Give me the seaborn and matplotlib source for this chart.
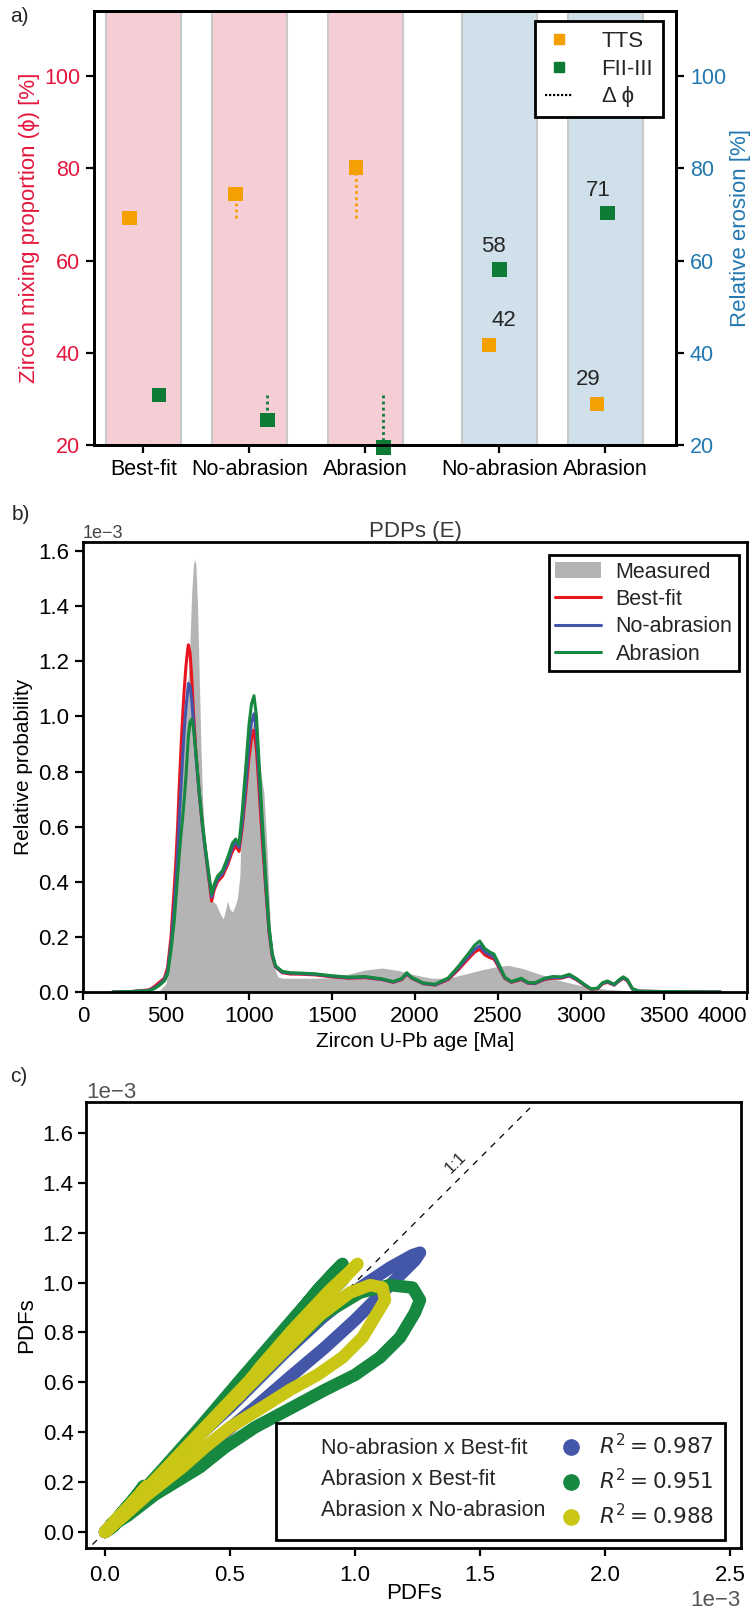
import numpy as np
import pandas as pd
import matplotlib
matplotlib.use("Agg")
import matplotlib.pyplot as plt
import seaborn as sns
from matplotlib.lines import Line2D
from matplotlib.patches import Patch

# ---------------- data ----------------
# panel a
group_labels = ["Best-fit", "No-abrasion", "Abrasion", "No-abrasion", "Abrasion"]
tts_mixing = [69.2, 74.4, 80.2]      # Best-fit, No-abrasion, Abrasion  (left axis)
fii_mixing = [30.8, 25.4, 19.5]
tts_erosion = [41.7, 28.9]           # No-abrasion, Abrasion (right axis)
fii_erosion = [58.1, 70.3]
tts_erosion_labels = ["42", "29"]
fii_erosion_labels = ["58", "71"]

# panel b (values in units of 1e-3)
model_age = [180, 300, 400, 430, 460, 490, 510, 530, 550, 560, 570, 580, 590, 600, 610, 620, 630, 635,
             645, 655, 665, 680, 700, 720, 740, 760, 775, 790, 810, 840, 870, 900, 920, 940, 960, 980,
             1000, 1015, 1030, 1045, 1060, 1080, 1100, 1120, 1140, 1160, 1200, 1250, 1300, 1400,
             1500, 1600, 1700, 1800, 1870, 1920, 1950, 1980, 2050, 2120, 2200, 2260, 2320, 2360,
             2390, 2420, 2450, 2475, 2500, 2540, 2580, 2610, 2640, 2680, 2720, 2780, 2830, 2880,
             2930, 2970, 3020, 3060, 3100, 3130, 3160, 3200, 3230, 3255, 3280, 3310, 3350, 3450,
             3600, 3840]
best_fit = [0.0, 0.002, 0.008, 0.02, 0.035, 0.05, 0.09, 0.2, 0.38, 0.48, 0.6, 0.75, 0.88, 1.0, 1.1, 1.18, 1.24, 1.26,
            1.23, 1.14, 1.02, 0.87, 0.72, 0.6, 0.5, 0.4, 0.33, 0.37, 0.40, 0.42, 0.46, 0.51, 0.53, 0.51, 0.6, 0.72,
            0.85, 0.92, 0.95, 0.88, 0.74, 0.55, 0.38, 0.22, 0.13, 0.09, 0.07, 0.065, 0.065, 0.062,
            0.055, 0.05, 0.052, 0.045, 0.035, 0.045, 0.065, 0.05, 0.03, 0.025, 0.045, 0.08, 0.12, 0.145,
            0.155, 0.135, 0.125, 0.12, 0.095, 0.05, 0.035, 0.04, 0.045, 0.032, 0.03, 0.045, 0.05, 0.05,
            0.058, 0.045, 0.025, 0.01, 0.012, 0.03, 0.035, 0.025, 0.04, 0.05, 0.04, 0.01, 0.003, 0.002,
            0.001, 0.0]
no_abrasion = [0.0, 0.002, 0.006, 0.015, 0.028, 0.045, 0.075, 0.17, 0.31, 0.40, 0.5, 0.63, 0.74, 0.85, 0.95, 1.03, 1.09, 1.12,
               1.11, 1.06, 0.98, 0.86, 0.72, 0.6, 0.5, 0.41, 0.345, 0.38, 0.41, 0.43, 0.47, 0.525, 0.545, 0.525, 0.62, 0.75,
               0.9, 0.98, 1.01, 0.94, 0.79, 0.59, 0.4, 0.23, 0.135, 0.092, 0.072, 0.068, 0.067, 0.064,
               0.057, 0.052, 0.054, 0.046, 0.036, 0.047, 0.067, 0.051, 0.031, 0.026, 0.048, 0.086, 0.128, 0.155,
               0.168, 0.145, 0.135, 0.128, 0.1, 0.052, 0.036, 0.042, 0.047, 0.033, 0.031, 0.047, 0.053, 0.052,
               0.06, 0.047, 0.026, 0.011, 0.013, 0.032, 0.037, 0.026, 0.042, 0.052, 0.042, 0.011, 0.003, 0.002,
               0.001, 0.0]
abrasion = [0.0, 0.002, 0.005, 0.012, 0.024, 0.04, 0.065, 0.15, 0.26, 0.34, 0.42, 0.5, 0.57, 0.63, 0.7, 0.78, 0.88, 0.93,
            0.98, 0.99, 0.96, 0.87, 0.73, 0.61, 0.51, 0.42, 0.355, 0.39, 0.42, 0.44, 0.485, 0.54, 0.555, 0.535, 0.66, 0.81,
            0.97, 1.045, 1.075, 1.0, 0.84, 0.62, 0.42, 0.24, 0.14, 0.095, 0.075, 0.07, 0.069, 0.066,
            0.059, 0.054, 0.056, 0.048, 0.038, 0.049, 0.07, 0.053, 0.033, 0.028, 0.051, 0.092, 0.138, 0.17,
            0.185, 0.158, 0.145, 0.138, 0.108, 0.055, 0.038, 0.044, 0.05, 0.035, 0.033, 0.05, 0.056, 0.055,
            0.064, 0.05, 0.028, 0.012, 0.014, 0.034, 0.04, 0.028, 0.045, 0.055, 0.045, 0.012, 0.003, 0.002,
            0.001, 0.0]
measured_age = [400, 460, 500, 520, 540, 560, 580, 600, 620, 640, 655, 665, 672, 680, 690, 700, 710, 720,
                735, 750, 765, 780, 800, 815, 830, 845, 860, 870, 885, 900, 915, 930, 945, 960, 975, 990,
                1010, 1030, 1050, 1070, 1090, 1110, 1130, 1150, 1175, 1200, 1300, 1400, 1500, 1600, 1700,
                1800, 1900, 2000, 2100, 2200, 2300, 2400, 2500, 2560, 2650, 2750, 2850, 2950, 3050, 3150,
                3250, 3350, 3450, 3550]
measured = [0.0, 0.005, 0.03, 0.12, 0.3, 0.5, 0.7, 0.85, 1.0, 1.2, 1.45, 1.55, 1.57, 1.55, 1.4, 1.15, 0.9, 0.7,
            0.55, 0.45, 0.36, 0.33, 0.32, 0.3, 0.28, 0.265, 0.3, 0.33, 0.3, 0.29, 0.31, 0.34, 0.42, 0.75, 0.85, 0.9,
            0.95, 0.98, 0.9, 0.8, 0.72, 0.5, 0.22, 0.09, 0.055, 0.05, 0.05, 0.05, 0.052, 0.065, 0.08,
            0.087, 0.078, 0.062, 0.05, 0.05, 0.065, 0.08, 0.093, 0.097, 0.085, 0.065, 0.045, 0.03, 0.018, 0.01,
            0.006, 0.003, 0.001, 0.0]

# panel c
r2_labels = ["$R^2 = 0.987$", "$R^2 = 0.951$", "$R^2 = 0.988$"]
pair_names = ["No-abrasion x Best-fit", "Abrasion x Best-fit", "Abrasion x No-abrasion"]

# ---------------- styling / layout ----------------
sns.set_theme(style="ticks")
plt.rcParams["font.family"] = ["Liberation Sans", "DejaVu Sans"]
plt.rcParams["mathtext.fontset"] = "dejavusans"
plt.rcParams["axes.linewidth"] = 1.8
plt.rcParams["axes.edgecolor"] = "black"
plt.rcParams["xtick.color"] = "black"
plt.rcParams["ytick.color"] = "black"
plt.rcParams["axes.labelcolor"] = "black"

ORANGE = "#F4A000"
DGREEN = "#0D7A36"
PINK = "#F5CDD5"
LBLUE = "#CFE0EB"
CRIMSON = "#E3173E"
RBLUE = "#2278B0"
RED = "#E8141E"
BLUE = "#4356A8"
GREEN = "#16883F"
YELLOW = "#C9C615"
GREY = "#B4B4B4"
FS = 15
TFS = 16
SCALE = 1e-3

W, H = 756, 1609
fig = plt.figure(figsize=(W / 100, H / 100), dpi=100)


def axes_px(left, right, top, bottom):
    return fig.add_axes([left / W, 1 - bottom / H, (right - left) / W, (bottom - top) / H])


# ================= panel a =================
axa = axes_px(94, 676, 11, 445)
band_pos = [0.47, 1.48, 2.585, 3.86, 4.87]
band_half = 0.357
tts_off = [-0.13, -0.13, -0.09]
fii_off = [0.15, 0.17, 0.17]
tts_off_r = [-0.10, -0.08]
fii_off_r = [0.0, 0.02]

axa.set_xlim(0, 5.543)
axa.set_ylim(20, 114.1)
for i, p in enumerate(band_pos):
    axa.axvspan(p - band_half, p + band_half, facecolor=PINK if i < 3 else LBLUE,
                edgecolor="#C8C8C8", lw=1.5, zorder=0)

tts_x = [band_pos[i] + tts_off[i] for i in range(3)]
fii_x = [band_pos[i] + fii_off[i] for i in range(3)]
axa.vlines(tts_x[1:], [tts_mixing[0]] * 2, tts_mixing[1:], colors=ORANGE, linestyles=(0, (1, 1.2)), lw=2, zorder=2)
axa.vlines(fii_x[1:], [fii_mixing[0]] * 2, fii_mixing[1:], colors=DGREEN, linestyles=(0, (1, 1.2)), lw=2, zorder=2)
sns.scatterplot(x=tts_x, y=tts_mixing, marker="s", s=110, color=ORANGE, edgecolor="none", ax=axa, zorder=3, clip_on=False)
sns.scatterplot(x=fii_x, y=fii_mixing, marker="s", s=110, color=DGREEN, edgecolor="none", ax=axa, zorder=3, clip_on=False)

axa.set_xticks(band_pos)
axa.set_xticklabels(group_labels)
axa.set_yticks([20, 40, 60, 80, 100])
axa.tick_params(axis="both", direction="out", length=6, width=1.6, labelsize=15.5, pad=4)
axa.tick_params(axis="y", labelcolor=CRIMSON)
axa.set_ylabel("Zircon mixing proportion (ϕ) [%]", color=CRIMSON, fontsize=FS + 1, labelpad=3)

axr = axa.twinx()
axr.set_ylim(20, 114.1)
axr.set_yticks([20, 40, 60, 80, 100])
axr.tick_params(axis="y", direction="out", length=6, width=1.6, labelsize=15.5, labelcolor=RBLUE, pad=4)
axr.set_ylabel("Relative erosion [%]", color=RBLUE, fontsize=FS + 1, labelpad=3)
tts_xr = [band_pos[3 + i] + tts_off_r[i] for i in range(2)]
fii_xr = [band_pos[3 + i] + fii_off_r[i] for i in range(2)]
sns.scatterplot(x=tts_xr, y=tts_erosion, marker="s", s=110, color=ORANGE, edgecolor="none", ax=axr, zorder=3)
sns.scatterplot(x=fii_xr, y=fii_erosion, marker="s", s=110, color=DGREEN, edgecolor="none", ax=axr, zorder=3)
for xx, yy, lab, dx in zip(tts_xr, tts_erosion, tts_erosion_labels, [15, -9]):
    axr.annotate(lab, (xx, yy), xytext=(dx, 14), textcoords="offset pixels", ha="center", va="bottom", fontsize=TFS)
for xx, yy, lab, dx in zip(fii_xr, fii_erosion, fii_erosion_labels, [-6, -9]):
    axr.annotate(lab, (xx, yy), xytext=(dx, 12), textcoords="offset pixels", ha="center", va="bottom", fontsize=TFS)

leg_a = [Line2D([], [], marker="s", ls="none", color=ORANGE, markersize=7),
         Line2D([], [], marker="s", ls="none", color=DGREEN, markersize=7),
         Line2D([], [], color="black", ls=(0, (1, 0.8)), lw=1.6)]
la = axr.legend(leg_a, ["TTS", "FII-III", "Δ ϕ"], loc="upper right", bbox_to_anchor=(0.978, 0.977),
                borderaxespad=0, fontsize=FS + 1, frameon=True, fancybox=False, framealpha=1,
                edgecolor="black", handlelength=1.25, handletextpad=1.3, labelspacing=0.3,
                borderpad=0.45)
la.get_frame().set_linewidth(2)
for ax in (axa, axr):
    for s in ax.spines.values():
        s.set_linewidth(2)
        s.set_color("black")

# ================= panel b =================
axb = axes_px(83, 747, 542, 992)
mage = np.array(model_age)
axb.fill_between(np.array(measured_age), np.array(measured) * SCALE, color=GREY, lw=0, zorder=1)
for vals, col in [(best_fit, RED), (no_abrasion, BLUE), (abrasion, GREEN)]:
    sns.lineplot(x=mage, y=np.array(vals) * SCALE, color=col, lw=2.2, ax=axb, estimator=None, sort=False, zorder=2)
axb.set_xlim(0, 4000)
axb.set_ylim(0, 1.633e-3)
axb.set_xticks(np.arange(0, 4001, 500))
axb.set_yticks(np.arange(0, 1.61e-3, 0.2e-3))
axb.ticklabel_format(axis="y", style="sci", scilimits=(0, 0))
axb.tick_params(axis="both", direction="out", length=6, width=1.6, labelsize=TFS, pad=4)
axb.xaxis.get_major_ticks()[-1].label1.set_horizontalalignment("right")
axb.yaxis.get_offset_text().set_fontsize(13)
axb.yaxis.get_offset_text().set_color("#444444")
axb.set_xlabel("Zircon U-Pb age [Ma]", fontsize=FS)
axb.set_ylabel("Relative probability", fontsize=FS)
axb.set_title("PDPs (E)", fontsize=FS + 1, color="#3a3a3a", pad=3)
leg_b = [Patch(facecolor=GREY, edgecolor="none"),
         Line2D([], [], color=RED, lw=2.2),
         Line2D([], [], color=BLUE, lw=2.2),
         Line2D([], [], color=GREEN, lw=2.2)]
lb = axb.legend(leg_b, ["Measured", "Best-fit", "No-abrasion", "Abrasion"], loc="upper right",
                bbox_to_anchor=(0.988, 0.971), borderaxespad=0, fontsize=FS + 0.5, frameon=True,
                fancybox=False, framealpha=1, edgecolor="black", handlelength=2.15,
                handletextpad=0.67, labelspacing=0.3, borderpad=0.3)
lb.get_frame().set_linewidth(2)

# ================= panel c =================
axc = axes_px(86, 741, 1102, 1548)
one_to_one = np.array([-0.05, 1.70]) * SCALE
axc.plot(one_to_one, one_to_one, ls=(0, (5, 5)), color="black", lw=0.9, zorder=1)
pairs = [(best_fit, no_abrasion, BLUE), (best_fit, abrasion, GREEN), (no_abrasion, abrasion, YELLOW)]
for xs, ys, col in pairs:
    sns.lineplot(x=np.array(xs) * SCALE, y=np.array(ys) * SCALE, color=col, lw=9, ax=axc,
                 estimator=None, sort=False, solid_capstyle="round", solid_joinstyle="round", zorder=2)
axc.text(1.404e-3, 1.48e-3, "1:1", rotation=45, ha="center", va="center", fontsize=12,
         bbox=dict(facecolor="white", edgecolor="none", pad=0.5), zorder=1.5)
axc.set_xlim(-0.076e-3, 2.544e-3)
axc.set_ylim(-0.064e-3, 1.724e-3)
axc.set_xticks(np.arange(0, 2.51e-3, 0.5e-3))
axc.set_yticks(np.arange(0, 1.61e-3, 0.2e-3))
axc.ticklabel_format(axis="both", style="sci", scilimits=(0, 0))
axc.tick_params(axis="both", direction="out", length=6, width=1.6, labelsize=TFS)
axc.tick_params(axis="x", pad=6)
axc.tick_params(axis="y", pad=3)
for t in (axc.xaxis.get_offset_text(), axc.yaxis.get_offset_text()):
    t.set_fontsize(FS + 1)
    t.set_color("#555555")
axc.set_xlabel("PDFs", fontsize=FS + 1, labelpad=-2)
axc.set_ylabel("PDFs", fontsize=FS + 1)
blank = Line2D([], [], ls="none")
leg_c = [blank, blank, blank] + [Line2D([], [], marker="o", ls="none", color=c, markersize=11)
                                 for c in (BLUE, GREEN, YELLOW)]
lc = axc.legend(leg_c, pair_names + r2_labels, ncol=2, loc="lower right", bbox_to_anchor=(0.976, 0.018),
                borderaxespad=0, fontsize=FS + 0.5, frameon=True, fancybox=False, framealpha=1,
                edgecolor="black", handlelength=0.6, handletextpad=1.0, columnspacing=0.9,
                labelspacing=0.45, borderpad=0.5)
lc.get_frame().set_linewidth(2)
for ax in (axb, axc):
    for s in ax.spines.values():
        s.set_linewidth(2)
        s.set_color("black")

# panel letters
fig.text(10 / W, 1 - 17 / H, "a)", fontsize=FS, va="center", ha="left")
fig.text(12 / W, 1 - 514 / H, "b)", fontsize=FS, va="center", ha="left")
fig.text(10 / W, 1 - 1077 / H, "c)", fontsize=FS, va="center", ha="left")

fig.savefig("out.png", dpi=100)
